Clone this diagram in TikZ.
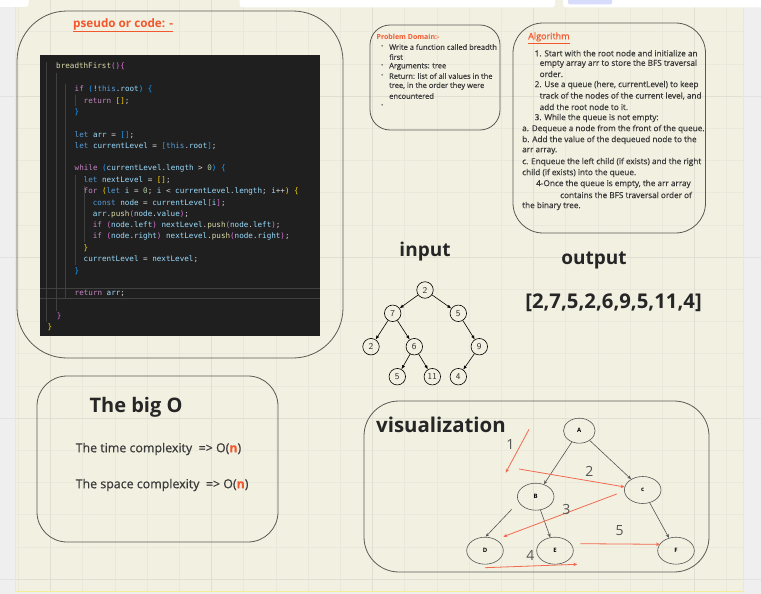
\documentclass[tikz,border=0pt]{standalone}
\usepackage{fontspec}
\setmainfont{Open Sans}
\setmonofont{DejaVu Sans Mono}
\newfontfamily\semib{Open Sans}[FakeBold=0.6]
\usetikzlibrary{arrows.meta,shapes.geometric}
\definecolor{outbg}{HTML}{EFEFEF}
\definecolor{cream}{HTML}{F2F0E1}
\definecolor{frameY}{HTML}{F6EE94}
\definecolor{gridA}{HTML}{E0DFD2}
\definecolor{gridB}{HTML}{EAE8DA}
\definecolor{gridC}{HTML}{E2E2E2}
\definecolor{boxline}{HTML}{5A5A55}
\definecolor{orangeT}{HTML}{F2572D}
\definecolor{codebg}{HTML}{1F1F1F}
\definecolor{codetx}{HTML}{D4D4D4}
\definecolor{guide}{HTML}{404040}
\definecolor{ckP}{HTML}{C586C0}
\definecolor{ckB}{HTML}{569CD6}
\definecolor{ckV}{HTML}{9CDCFE}
\definecolor{ckF}{HTML}{DCDCAA}
\definecolor{ckN}{HTML}{B5CEA8}
\definecolor{ckY}{HTML}{FFD700}
\definecolor{ckO}{HTML}{DA70D6}
\definecolor{ckL}{HTML}{179FFF}
\definecolor{txtG}{HTML}{3A3A3A}
\definecolor{redA}{HTML}{F26A50}
\definecolor{grayA}{HTML}{555555}
\definecolor{lav}{HTML}{D6DCFA}
\newcommand{\cxP}[1]{\textcolor{ckP}{#1}}
\newcommand{\cxB}[1]{\textcolor{ckB}{#1}}
\newcommand{\cxV}[1]{\textcolor{ckV}{#1}}
\newcommand{\cxF}[1]{\textcolor{ckF}{#1}}
\newcommand{\cxN}[1]{\textcolor{ckN}{#1}}
\newcommand{\cxY}[1]{\textcolor{ckY}{#1}}
\newcommand{\cxO}[1]{\textcolor{ckO}{#1}}
\newcommand{\cxL}[1]{\textcolor{ckL}{#1}}
\tikzset{
 codeline/.style={anchor=west, inner sep=0pt, font=\ttfamily\fontsize{7.6}{8}\selectfont, text=codetx},
 pdline/.style={anchor=west, inner sep=0pt, font=\semib\fontsize{7.5}{8}\selectfont, text=txtG},
 alline/.style={anchor=west, inner sep=0pt, font=\semib\fontsize{8.2}{9}\selectfont, text=txtG},
 bigbox/.style={draw=boxline, line width=0.8pt},
 tnode/.style={circle, draw=black, line width=0.6pt, minimum size=16.5pt, inner sep=0pt, font=\sffamily\fontsize{9}{9}\selectfont, text=black!80},
 tedge/.style={-{Latex[length=4pt,width=3.2pt]}, line width=0.6pt},
 vnode/.style={ellipse, draw=grayA, line width=0.6pt, minimum width=36.6pt, minimum height=27pt, inner sep=0pt, font=\bfseries\fontsize{6}{6}\selectfont},
 gedge/.style={-{Stealth[length=4pt,width=3.2pt]}, draw=grayA, line width=0.6pt},
 redge/.style={-{Stealth[length=4pt,width=3.5pt]}, draw=redA, line width=0.8pt},
 numlab/.style={text=grayA, font=\fontsize{14}{14}\selectfont, inner sep=0pt},
 heading/.style={font=\bfseries\fontsize{19}{19}\selectfont, text=black!85, inner sep=0pt},
 bigoline/.style={anchor=west, inner sep=0pt, font=\semib\fontsize{12.4}{12}\selectfont, text=txtG},
}
\begin{document}
\begin{tikzpicture}[x=1pt,y=-1pt]
\useasboundingbox (0,0) rectangle (761,594);
% background
\fill[outbg] (0,0) rectangle (761,594);
\foreach \yy in {96,257,418,579} {\draw[gridC, line width=0.8pt] (0,\yy) -- (761,\yy);}
\fill[cream] (15,0) rectangle (743,591);
\begin{scope}
\clip (15,0) rectangle (743,591);
\foreach \i in {0,...,23} {\draw[gridB, line width=0.5pt] ({18.3+\i*32.2},0) -- ++(0,600);}
\foreach \i in {0,...,19} {\draw[gridB, line width=0.5pt] (0,{-0.6+\i*32.2}) -- ++(800,0);}
\foreach \xx in {50.5,211.5,372.5,533,694} {\draw[gridA, line width=0.8pt] (\xx,0) -- (\xx,600);}
\foreach \yy in {96,257,418,579} {\draw[gridA, line width=0.8pt] (0,\yy) -- (800,\yy);}
\end{scope}
\draw[frameY, line width=0.8pt] (15,-2) -- (15,591) -- (743,591) -- (743,-2);
% top UI boxes
\fill[white, rounded corners=3pt] (-5,-5) rectangle (28.5,7);
\fill[white, rounded corners=3pt] (239.5,-5) rectangle (555,7.5);
\fill[white, rounded corners=3pt] (563,-5) rectangle (766,7.5);
\fill[lav, rounded corners=2pt] (568,-5) rectangle (612,4.5);

% ===== code box =====
\draw[bigbox, rounded corners=50pt] (17,11) rectangle (343,358);
\node[inner sep=0pt, anchor=west, font=\bfseries\fontsize{11.7}{12}\selectfont, text=orangeT] (pct) at (73,25) {\underline{pseudo or code: -}};
\fill[codebg] (40,55) rectangle (320,336);
\draw[guide, line width=0.5pt] (40,288.5) -- (320,288.5);
\draw[guide, line width=0.5pt] (40,298.5) -- (320,298.5);
\draw[guide, line width=0.5pt] (46.7,62) -- (46.7,322);
\draw[guide, line width=0.5pt] (56.7,73) -- (56.7,311);
\draw[guide, line width=0.5pt] (65.7,84) -- (65.7,299);
\draw[guide, line width=0.5pt] (74.8,95) -- (74.8,106);
\draw[guide, line width=0.5pt] (74.8,175) -- (74.8,265);
\draw[guide, line width=0.5pt] (84,186) -- (84,242);
\node[codeline] (c1) at (56,66.7) {\cxF{breadthFirst}\cxO{()\{}};
\node[codeline] (c2) at (74.5,89.3) {\cxP{if} \cxL{(}!\cxB{this}.\cxV{root}\cxL{)} \cxL{\{}};
\node[codeline] (c3) at (83.5,100.7) {\cxP{return} \cxY{[]};};
\node[codeline] (c4) at (74.5,112.3) {\cxL{\}}};
\node[codeline] (c5) at (74.5,134.7) {\cxB{let} \cxV{arr} = \cxL{[]};};
\node[codeline] (c6) at (74.5,146) {\cxB{let} \cxV{currentLevel} = \cxL{[}\cxB{this}.\cxV{root}\cxL{]};};
\node[codeline] (c7) at (74.5,168.7) {\cxP{while} \cxL{(}\cxV{currentLevel}.\cxV{length} > \cxN{0}\cxL{)} \cxL{\{}};
\node[codeline] (c8) at (83.5,180) {\cxB{let} \cxV{nextLevel} = \cxY{[]};};
\node[codeline] (c9) at (83.5,191.3) {\cxP{for} \cxY{(}\cxB{let} \cxV{i} = \cxN{0}; \cxV{i} < \cxV{currentLevel}.\cxV{length}; \cxV{i}++\cxY{)} \cxY{\{}};
\node[codeline] (c10) at (92.7,202.7) {\cxB{const} \cxV{node} = \cxV{currentLevel}\cxO{[}\cxV{i}\cxO{]};};
\node[codeline] (c11) at (92.7,214) {\cxV{arr}.\cxF{push}\cxO{(}\cxV{node}.\cxV{value}\cxO{)};};
\node[codeline] (c12) at (92.7,225.3) {\cxP{if} \cxO{(}\cxV{node}.\cxV{left}\cxO{)} \cxV{nextLevel}.\cxF{push}\cxO{(}\cxV{node}.\cxV{left}\cxO{)};};
\node[codeline] (c13) at (92.7,236.7) {\cxP{if} \cxO{(}\cxV{node}.\cxV{right}\cxO{)} \cxV{nextLevel}.\cxF{push}\cxO{(}\cxV{node}.\cxV{right}\cxO{)};};
\node[codeline] (c14) at (83.5,248.7) {\cxY{\}}};
\node[codeline] (c15) at (83.5,259.3) {\cxV{currentLevel} = \cxV{nextLevel};};
\node[codeline] (c16) at (74.5,271.3) {\cxL{\}}};
\node[codeline] (c17) at (74.5,293.7) {\cxP{return} \cxV{arr};};
\node[codeline] (c18) at (56.7,316) {\cxO{\}}};
\node[codeline] (c19) at (47.5,327.7) {\cxY{\}}};

% ===== problem domain =====
\draw[bigbox, rounded corners=20pt] (370,25) rectangle (500,130);
\node[pdline, font=\bfseries\fontsize{7}{7}\selectfont, text=orangeT] (pdt) at (376.5,37) {Problem Domain:-};
\node[pdline, font=\fontsize{6}{6}\selectfont] (pb1) at (381,47) {\textbullet};
\node[pdline] (pd1) at (389,47) {Write a function called breadth};
\node[pdline] (pd2) at (389,57) {first};
\node[pdline, font=\fontsize{6}{6}\selectfont] (pb2) at (381,66.5) {\textbullet};
\node[pdline] (pd3) at (389,66.5) {Arguments: tree};
\node[pdline, font=\fontsize{6}{6}\selectfont] (pb3) at (381,76) {\textbullet};
\node[pdline] (pd4) at (389,76) {Return: list of all values in the};
\node[pdline] (pd5) at (389,86) {tree, in the order they were};
\node[pdline] (pd6) at (389,96) {encountered};
\node[pdline, font=\fontsize{6}{6}\selectfont] (pb4) at (381,106) {\textbullet};

% ===== algorithm =====
\draw[bigbox, rounded corners=30pt] (513,23) rectangle (705.5,233);
\node[alline, font=\semib\fontsize{9}{9}\selectfont, text=orangeT] (alt) at (528,38) {\underline{Algorithm}};
\node[alline] (a1) at (534.5,53.3) {1. Start with the root node and initialize an};
\node[alline] (a2) at (539.5,63.7) {empty array arr to store the BFS traversal};
\node[alline] (a3) at (539.5,74) {order.};
\node[alline] (a4) at (534.5,85) {2. Use a queue (here, currentLevel) to keep};
\node[alline] (a5) at (539.5,96) {track of the nodes of the current level, and};
\node[alline] (a6) at (539.5,107) {add the root node to it.};
\node[alline] (a7) at (534.5,118) {3. While the queue is not empty:};
\node[alline] (a8) at (522,129) {a. Dequeue a node from the front of the queue.};
\node[alline] (a9) at (522,140) {b. Add the value of the dequeued node to the};
\node[alline] (a10) at (522,151) {arr array.};
\node[alline] (a11) at (522,162) {c. Enqueue the left child (if exists) and the right};
\node[alline] (a12) at (522,173) {child (if exists) into the queue.};
\node[alline] (a13) at (536,184) {4-Once the queue is empty, the arr array};
\node[alline] (a14) at (560,195) {contains the BFS traversal order of};
\node[alline] (a15) at (522,206) {the binary tree.};

% ===== input tree =====
\node[heading] (inp) at (425,252) {input};
\node[tnode] (t2) at (425,290) {2};
\node[tnode] (t7) at (392.7,313.3) {7};
\node[tnode] (t5) at (458.3,313.3) {5};
\node[tnode] (t2b) at (371,346.7) {2};
\node[tnode] (t6) at (414.3,346.7) {6};
\node[tnode] (t9) at (479.3,346.7) {9};
\node[tnode] (t5b) at (397.3,376.7) {5};
\node[tnode] (t11) at (432.3,376.7) {11};
\node[tnode] (t4) at (458.3,376.7) {4};
\draw[tedge] (t2) -- (t7);
\draw[tedge] (t2) -- (t5);
\draw[tedge] (t7) -- (t2b);
\draw[tedge] (t7) -- (t6);
\draw[tedge] (t5) -- (t9);
\draw[tedge] (t6) -- (t5b);
\draw[tedge] (t6) -- (t11);
\draw[tedge] (t9) -- (t4);

% ===== output =====
\node[heading] (outp) at (594,260) {output};
\node[heading, font=\bfseries\fontsize{20.3}{20}\selectfont] (outv) at (613.5,303) {[2,7,5,2,6,9,5,11,4]};

% ===== big O =====
\draw[bigbox, rounded corners=30pt] (37,376) rectangle (278,542);
\node[heading, font=\bfseries\fontsize{20}{20}\selectfont] (bigo) at (136,407) {The big O};
\node[bigoline] (bo1) at (75.5,449) {The time complexity\ \ => O(\textcolor{orangeT}{\bfseries n})};
\node[bigoline] (bo2) at (75.5,485) {The space complexity\ \ => O(\textcolor{orangeT}{\bfseries n})};

% ===== visualization =====
\draw[bigbox, rounded corners=35pt] (364,401) rectangle (709,572);
\node[heading, anchor=west, font=\bfseries\fontsize{20.4}{20}\selectfont] (vis) at (376,425) {visualization};
\node[vnode, minimum width=31.6pt, minimum height=25pt] (A) at (579.3,430.7) {A};
\node[vnode] (B) at (535.7,496.7) {B};
\node[vnode] (C) at (642.7,490) {c};
\node[vnode] (D) at (485,550.7) {D};
\node[vnode] (E) at (555,550.7) {E};
\node[vnode] (F) at (676,550.7) {F};
\draw[gedge] (A) -- (B);
\draw[gedge] (A) -- (C);
\draw[gedge] (B) -- (E);
\draw[gedge] (C) -- (F);
\coordinate (gds) at (511.7,509.3);
\coordinate (gde) at (485.7,536.7);
\draw[gedge] (gds) -- (gde);
% red traversal arrows
\coordinate (r1s) at (529,429.3);
\coordinate (r1e) at (505.7,472.7);
\coordinate (r2s) at (519,469);
\coordinate (r3s) at (616.7,494);
\coordinate (r3e) at (503.3,536.7);
\coordinate (r4s) at (485,567.7);
\coordinate (r4e) at (577.3,564.3);
\coordinate (r5s) at (580.3,543.7);
\coordinate (r5e) at (660,544.3);
\draw[redge] (r1s) -- (r1e);
\draw[redge] (r2s) -- (C);
\draw[redge] (r3s) -- (r3e);
\draw[redge] (r4s) -- (r4e);
\draw[redge] (r5s) -- (r5e);
\node[numlab] (n1) at (510.3,444.3) {1};
\node[numlab] (n2) at (589.3,471.7) {2};
\node[numlab] (n3) at (566.3,509.3) {3};
\node[numlab] (n4) at (530.3,555.7) {4};
\node[numlab] (n5) at (619.7,531) {5};
\end{tikzpicture}
\end{document}
